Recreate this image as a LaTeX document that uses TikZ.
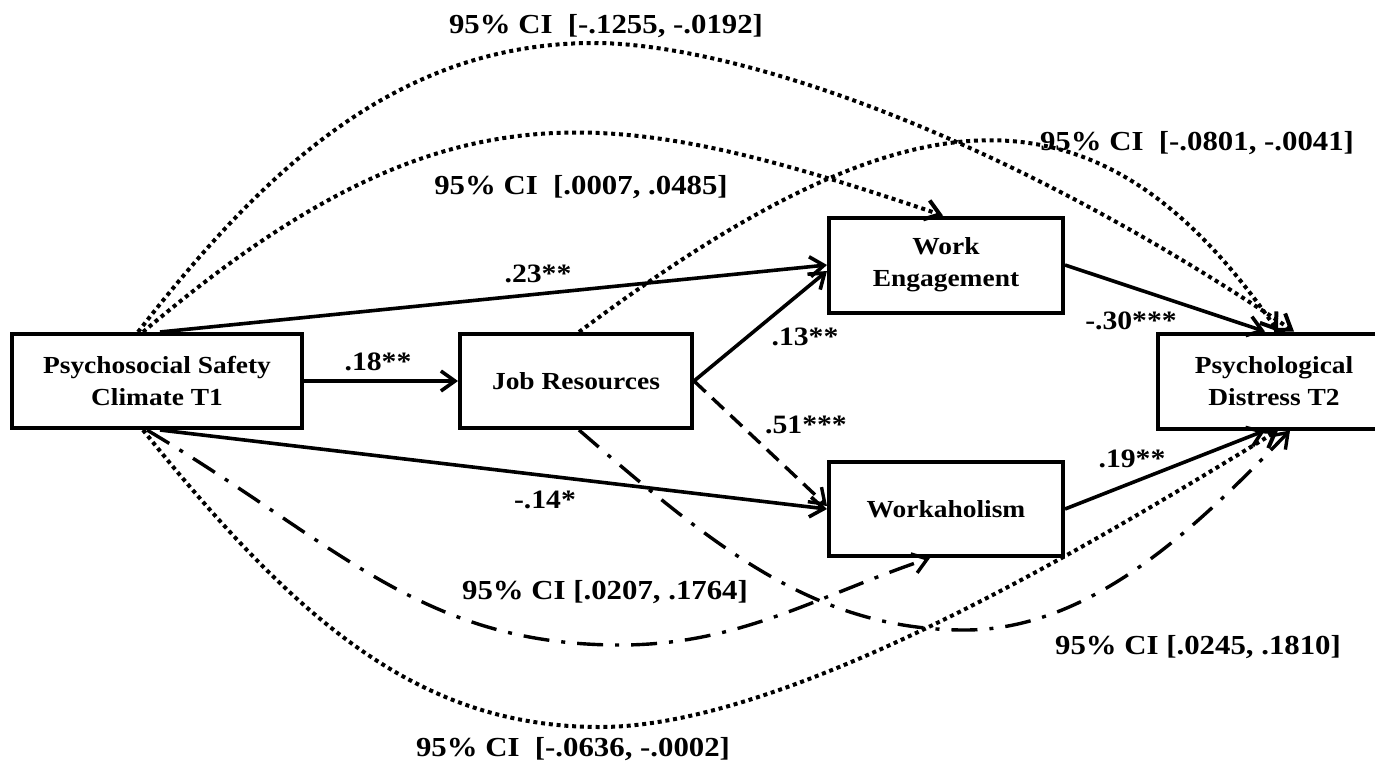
\documentclass[tikz,border=0pt]{standalone}
\usepackage{fontspec}
\setmainfont{Liberation Serif}[FakeStretch=1.12]
\usetikzlibrary{arrows.meta}
\begin{document}
\begin{tikzpicture}[x=1pt,y=-1pt,
  box/.style={draw,line width=4pt,minimum width=#1,minimum height=94pt,
    inner sep=0pt,align=center,font=\fontsize{24.5}{32}\selectfont\bfseries},
  coef/.style={inner sep=0pt,font=\fontsize{26.5}{30}\selectfont\bfseries},
  ci/.style={inner sep=0pt,font=\fontsize{27.5}{30}\selectfont\bfseries},
  tip/.style={-{Straight Barb[length=14pt,width=20pt]}},
  arr/.style={tip,line width=3.6pt},
  dashline/.style={tip,line width=3.4pt,dash pattern=on 16pt off 9pt},
  dotline/.style={tip,line width=4pt,dash pattern=on 4pt off 3.8pt},
  dashdot/.style={tip,line width=3.4pt,dash pattern=on 26pt off 12pt on 4pt off 12pt}
]
\useasboundingbox[fill=white] (0,0) rectangle (1375,766);

% variables
\node[box=290pt] (psc) at (157,381) {Psychosocial Safety\\Climate T1};
\node[box=232pt] (jr)  at (576,381) {Job Resources};
\node[box=234pt,minimum height=95pt] (we) at (946,265) {Work\\Engagement};
\node[box=234pt] (wo)  at (946,509) {Workaholism};
\node[box=232pt,minimum height=95pt] (pd) at (1274,381) {Psychological\\Distress T2};

% direct paths
\draw[arr] (psc.east) -- (jr.west);
\draw[arr] ([xshift=3pt]psc.north) -- (we.west);
\draw[arr] ([xshift=3pt]psc.south) -- (wo.west);
\draw[arr] (jr.east) -- ([yshift=-6pt]we.west);
\draw[dashline] (jr.east) -- ([yshift=3pt]wo.west);
\draw[arr] (we.east) -- ([xshift=-9pt]pd.north);
\draw[arr] (wo.east) -- ([xshift=-9pt]pd.south);

% indirect effects
\draw[dotline] ([xshift=-19pt]psc.north) .. controls (260,175) and (394,43) .. (594,43)
  .. controls (720,43) and (980,120) .. ([xshift=20pt]pd.north);
\draw[dotline] ([xshift=-14pt]psc.north) .. controls (447,74) and (610,103) .. ([xshift=-3pt]we.north);
\draw[dotline] ([xshift=3pt]jr.north) .. controls (899,93) and (1092,62) .. ([xshift=4pt]pd.north);
\draw[dashdot] ([xshift=-10pt]psc.south) .. controls (336,542) and (420,645) .. (620,645)
  .. controls (740,645) and (817,596) .. ([xshift=-16pt]wo.south);
\draw[dotline] ([xshift=-14pt]psc.south) .. controls (298,623) and (420,727) .. (600,727)
  .. controls (800,727) and (1130,520) .. ([xshift=4pt]pd.south);
\draw[dashdot] ([xshift=3pt]jr.south) .. controls (714,547) and (815,630) .. (965,630)
  .. controls (1095,630) and (1203,520) .. ([xshift=16pt]pd.south);

% path coefficients
\node[coef] (c23) at (538,274) {.23**};
\node[coef] (c18) at (378,362) {.18**};
\node[coef] (c14) at (545,500) {-.14*};
\node[coef] (c13) at (805,337) {.13**};
\node[coef] (c51) at (806,425) {.51***};
\node[coef] (c30) at (1131,321) {-.30***};
\node[coef] (c19) at (1132,459) {.19**};

% confidence intervals
\node[ci] (ciA) at (606,26)  {95\% CI~~[-.1255, -.0192]};
\node[ci] (ciB) at (581,187) {95\% CI~~[.0007, .0485]};
\node[ci] (ciC) at (1197,143) {95\% CI~~[-.0801, -.0041]};
\node[ci] (ciD) at (605,592) {95\% CI [.0207, .1764]};
\node[ci] (ciF) at (1198,647) {95\% CI [.0245, .1810]};
\node[ci] (ciE) at (573,749) {95\% CI~~[-.0636, -.0002]};
\end{tikzpicture}
\end{document}
